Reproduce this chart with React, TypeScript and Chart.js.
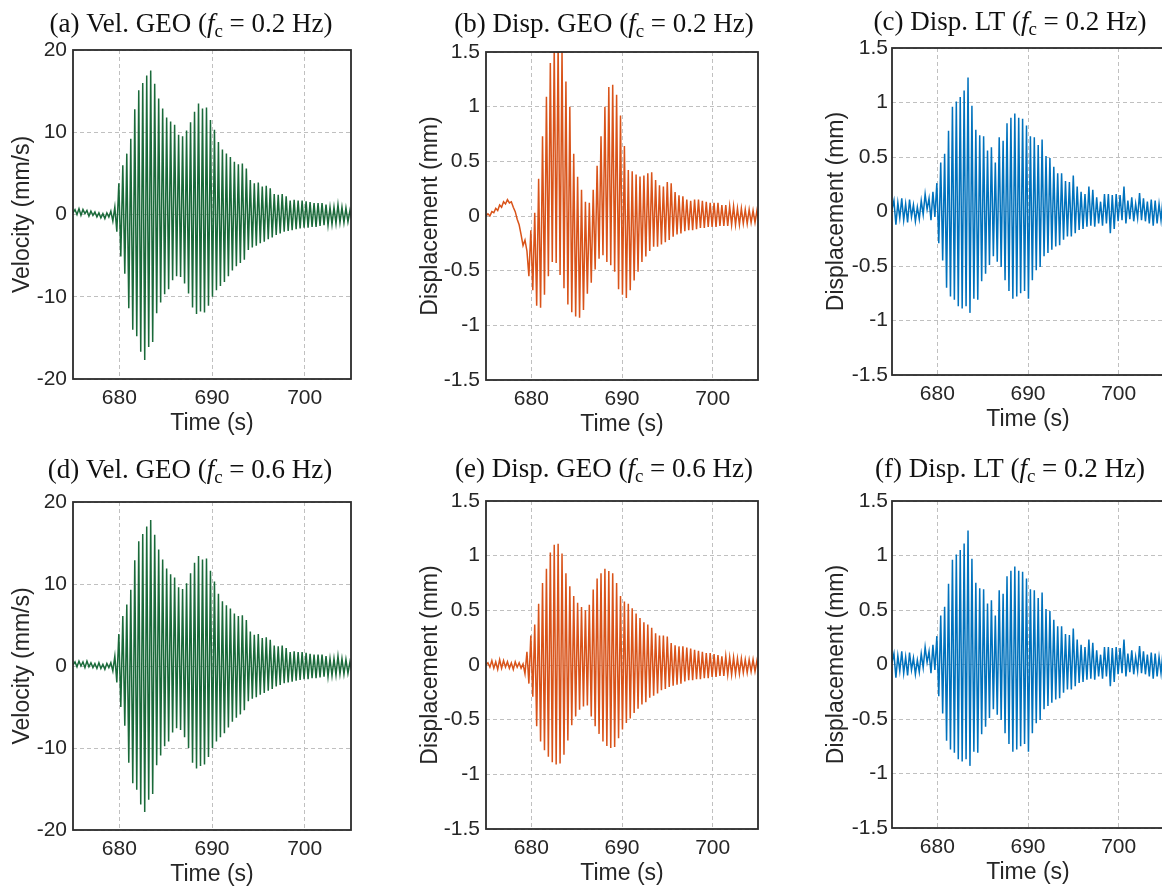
import React, { useEffect, useRef } from "react";
import { Chart, registerables } from "chart.js";

Chart.register(...registerables);

// ---- time base of the peak record ----
const T0 = 675; // s
const DT = 0.215; // s, spacing between successive extrema

// ---- tick labels ----
const timeTicks = [680, 690, 700];
const velTicks = [-20, -10, 0, 10, 20];
const dispTicks = [-1.5, -1, -0.5, 0, 0.5, 1, 1.5];

// ---- (a) velocity GEO, fc = 0.2 Hz ----
const velAPre = [0.2, 0.6, 0.0, 0.7, -0.1, 0.6, 0.1, 0.5, -0.2, 0.4, -0.1, 0.3, -0.3, 0.2, -0.4, 0.1, -0.5, 0.2, -0.3, 0.4, -0.8, 0.9];
const velATroughs = [-2.1, -5.1, -7.2, -11.4, -14.0, -14.8, -16.7, -17.7, -16.1, -15.5, -12.0, -10.7, -9.7, -9.1, -8.0, -7.5, -7.6, -8.4, -9.6, -11.3, -12.1, -11.8, -11.9, -11.1, -10.0, -9.2, -8.7, -8.2, -7.5, -6.8, -6.3, -5.9, -5.5, -4.3, -4.0, -3.8, -3.5, -3.3, -3.0, -2.8, -2.5, -2.3, -2.1, -2.0, -1.9, -1.8, -1.7, -1.6, -1.6, -1.5, -1.5, -1.4, -1.3, -1.3, -1.2, -1.1, -1.0, -1.0, -0.9, -0.8];
const velAPeaks = [3.8, 6.0, 7.4, 9.2, 12.8, 15.1, 16.0, 16.9, 17.5, 15.9, 14.1, 12.9, 11.8, 11.3, 10.9, 9.7, 9.5, 10.2, 11.2, 12.5, 13.5, 12.9, 13.0, 11.5, 10.3, 8.8, 7.9, 7.4, 7.0, 6.4, 6.1, 6.2, 5.6, 4.2, 3.8, 3.9, 3.4, 3.5, 3.2, 2.5, 2.4, 2.5, 2.2, 1.7, 1.8, 1.7, 1.7, 1.6, 1.5, 1.4, 1.4, 1.4, 1.2, 0.9, 0.9, 1.2, 0.9, 0.8, 0.5];

// ---- (d) velocity GEO, fc = 0.6 Hz ----
const velDPre = [0.1, 0.5, -0.1, 0.6, 0.0, 0.5, -0.2, 0.6, -0.1, 0.4, -0.2, 0.3, -0.3, 0.4, -0.3, 0.2, -0.4, 0.3, -0.2, 0.4, -0.6, 1.2];
const velDTroughs = [-2.0, -5.0, -7.3, -11.8, -14.3, -15.1, -16.9, -17.8, -16.3, -15.6, -12.1, -10.9, -9.8, -9.2, -8.1, -7.6, -7.8, -8.7, -10.0, -11.8, -12.5, -12.2, -12.0, -11.1, -10.0, -9.2, -8.7, -8.2, -7.5, -6.8, -6.3, -5.9, -5.4, -4.3, -4.0, -3.8, -3.5, -3.3, -3.0, -2.8, -2.5, -2.3, -2.1, -2.0, -1.9, -1.8, -1.7, -1.6, -1.6, -1.5, -1.5, -1.4, -1.3, -1.3, -1.2, -1.1, -1.0, -1.0, -0.9, -0.8];
const velDPeaks = [3.9, 6.1, 7.5, 9.3, 12.9, 15.2, 16.1, 17.0, 17.8, 16.0, 14.2, 13.0, 11.9, 11.2, 10.8, 9.6, 9.4, 10.1, 11.3, 12.6, 13.4, 13.0, 13.1, 11.6, 10.3, 8.8, 7.9, 7.4, 7.0, 6.4, 6.1, 6.2, 5.6, 4.2, 3.8, 3.9, 3.4, 3.5, 3.2, 2.5, 2.4, 2.5, 2.2, 1.7, 1.8, 1.7, 1.7, 1.6, 1.5, 1.4, 1.4, 1.4, 1.2, 0.9, 0.9, 1.2, 0.9, 0.8, 0.5];

// ---- (b) displacement GEO, fc = 0.2 Hz ----
const dispBPre = [0.0, 0.02, 0.0, 0.04, 0.03, 0.07, 0.05, 0.1, 0.08, 0.13, 0.11, 0.15, 0.12, 0.13, 0.08, 0.04, -0.03, -0.08, -0.17, -0.27, -0.22, -0.32];
const dispBTroughs = [-0.55, -0.68, -0.82, -0.84, -0.72, -0.55, -0.42, -0.43, -0.54, -0.66, -0.81, -0.88, -0.92, -0.93, -0.86, -0.71, -0.61, -0.49, -0.39, -0.36, -0.42, -0.45, -0.51, -0.67, -0.72, -0.75, -0.68, -0.59, -0.51, -0.42, -0.37, -0.32, -0.28, -0.28, -0.26, -0.24, -0.22, -0.19, -0.17, -0.16, -0.14, -0.13, -0.13, -0.12, -0.11, -0.11, -0.1, -0.1, -0.1, -0.09, -0.09, -0.09, -0.08, -0.08, -0.08, -0.07, -0.07, -0.06, -0.06, -0.05];
const dispBPeaks = [-0.13, 0.03, 0.34, 0.73, 1.09, 1.4, 1.55, 1.58, 1.52, 1.23, 1.0, 0.57, 0.36, 0.24, 0.13, 0.12, 0.24, 0.46, 0.73, 1.0, 1.18, 1.2, 1.11, 0.92, 0.64, 0.42, 0.41, 0.38, 0.36, 0.37, 0.39, 0.4, 0.33, 0.28, 0.27, 0.31, 0.3, 0.22, 0.19, 0.18, 0.15, 0.14, 0.15, 0.15, 0.14, 0.13, 0.12, 0.12, 0.12, 0.1, 0.1, 0.09, 0.09, 0.07, 0.07, 0.06, 0.06, 0.05, 0.05];

// ---- (e) displacement GEO, fc = 0.6 Hz ----
const dispEPre = [0.0, 0.02, -0.02, 0.04, -0.03, 0.03, -0.04, 0.05, -0.03, 0.04, -0.02, 0.03, -0.03, 0.02, -0.04, 0.03, -0.02, 0.02, -0.03, 0.01, -0.08];
const dispEPeaks = [0.12, 0.27, 0.37, 0.56, 0.75, 0.88, 1.03, 1.1, 1.11, 1.02, 0.84, 0.72, 0.63, 0.57, 0.53, 0.5, 0.55, 0.69, 0.79, 0.84, 0.88, 0.86, 0.84, 0.75, 0.63, 0.58, 0.56, 0.52, 0.47, 0.43, 0.39, 0.37, 0.34, 0.29, 0.27, 0.27, 0.26, 0.2, 0.18, 0.17, 0.17, 0.16, 0.15, 0.14, 0.13, 0.12, 0.11, 0.11, 0.1, 0.09, 0.08, 0.08, 0.07, 0.07, 0.06, 0.06, 0.05, 0.05, 0.05, 0.04];
const dispETroughs = [-0.17, -0.29, -0.56, -0.7, -0.78, -0.84, -0.89, -0.91, -0.9, -0.82, -0.69, -0.55, -0.47, -0.41, -0.38, -0.37, -0.47, -0.56, -0.63, -0.7, -0.74, -0.76, -0.75, -0.67, -0.59, -0.53, -0.49, -0.44, -0.4, -0.36, -0.34, -0.3, -0.28, -0.26, -0.23, -0.22, -0.2, -0.19, -0.18, -0.17, -0.15, -0.14, -0.14, -0.13, -0.13, -0.12, -0.12, -0.11, -0.11, -0.1, -0.1, -0.09, -0.09, -0.08, -0.08, -0.07, -0.07, -0.06, -0.06, -0.05];

// ---- (c)/(f) displacement LT, fc = 0.2 Hz ----
const dispLTPre = [0.02, 0.1, -0.12, 0.08, -0.06, 0.12, -0.08, 0.07, -0.1, 0.11, -0.05, 0.06, -0.09, 0.04, -0.07, 0.1, -0.03, 0.16, 0.02, 0.12, -0.08];
const dispLTPeaks = [0.18, 0.26, 0.45, 0.53, 0.74, 0.96, 1.01, 1.05, 1.11, 1.23, 0.97, 0.75, 0.7, 0.69, 0.56, 0.59, 0.45, 0.68, 0.65, 0.81, 0.86, 0.9, 0.86, 0.85, 0.79, 0.69, 0.68, 0.61, 0.66, 0.51, 0.49, 0.41, 0.35, 0.35, 0.28, 0.27, 0.33, 0.23, 0.18, 0.16, 0.23, 0.2, 0.13, 0.09, 0.16, 0.16, 0.15, 0.16, 0.15, 0.23, 0.1, 0.13, 0.07, 0.17, 0.12, 0.09, 0.11, 0.1, 0.07, 0.12];
const dispLTTroughs = [-0.05, -0.29, -0.45, -0.7, -0.78, -0.81, -0.87, -0.89, -0.87, -0.93, -0.8, -0.81, -0.64, -0.57, -0.49, -0.41, -0.46, -0.51, -0.63, -0.73, -0.8, -0.78, -0.75, -0.73, -0.8, -0.63, -0.54, -0.51, -0.41, -0.38, -0.35, -0.32, -0.31, -0.26, -0.23, -0.23, -0.2, -0.17, -0.16, -0.14, -0.13, -0.14, -0.11, -0.13, -0.11, -0.2, -0.16, -0.09, -0.08, -0.11, -0.07, -0.09, -0.06, -0.08, -0.09, -0.11, -0.13, -0.11, -0.08, -0.06];

// merge pre-event record with alternating extrema (in time order)
function buildSeries(pre: number[], first: number[], second: number[]) {
  const vals: number[] = [...pre];
  const n = Math.max(first.length, second.length);
  for (let k = 0; k < n; k++) {
    if (k < first.length) vals.push(first[k]);
    if (k < second.length) vals.push(second[k]);
  }
  return vals.map((v, i) => ({ x: T0 + i * DT, y: v }));
}

const GREEN = "#1a6a3a";
const ORANGE = "#d95319";
const BLUE = "#0072bd";
const TEXT = "#262626";

const X_H = 58;
const TOP_PAD = 50;

const panels = [
  { key: "a", l: 73, t: 50, r: 351, b: 379, ylabX: 23, titleCx: 191, titleBase: 32, title: ["(a) Vel. GEO (", " = 0.2 Hz)"], ylabel: "Velocity (mm/s)", ticks: velTicks, min: -20, max: 20, color: GREEN, data: () => buildSeries(velAPre, velATroughs, velAPeaks), tickPad: 6 },
  { key: "b", l: 486, t: 52, r: 758, b: 380, ylabX: 431, titleCx: 604, titleBase: 32, title: ["(b) Disp. GEO (", " = 0.2 Hz)"], ylabel: "Displacement (mm)", ticks: dispTicks, min: -1.5, max: 1.5, color: ORANGE, data: () => buildSeries(dispBPre, dispBTroughs, dispBPeaks), tickPad: 6 },
  { key: "c", l: 892, t: 48, r: 1164, b: 375, ylabX: 837, titleCx: 1010, titleBase: 30, title: ["(c) Disp. LT (", " = 0.2 Hz)"], ylabel: "Displacement (mm)", ticks: dispTicks, min: -1.5, max: 1.5, color: BLUE, data: () => buildSeries(dispLTPre, dispLTPeaks, dispLTTroughs), tickPad: 4 },
  { key: "d", l: 73, t: 502, r: 351, b: 830, ylabX: 23, titleCx: 190, titleBase: 478, title: ["(d) Vel. GEO (", " = 0.6 Hz)"], ylabel: "Velocity (mm/s)", ticks: velTicks, min: -20, max: 20, color: GREEN, data: () => buildSeries(velDPre, velDTroughs, velDPeaks), tickPad: 6 },
  { key: "e", l: 486, t: 501, r: 758, b: 829, ylabX: 431, titleCx: 604, titleBase: 477, title: ["(e) Disp. GEO (", " = 0.6 Hz)"], ylabel: "Displacement (mm)", ticks: dispTicks, min: -1.5, max: 1.5, color: ORANGE, data: () => buildSeries(dispEPre, dispEPeaks, dispETroughs), tickPad: 6 },
  { key: "f", l: 892, t: 501, r: 1164, b: 828, ylabX: 837, titleCx: 1010, titleBase: 477, title: ["(f) Disp. LT (", " = 0.2 Hz)"], ylabel: "Displacement (mm)", ticks: dispTicks, min: -1.5, max: 1.5, color: BLUE, data: () => buildSeries(dispLTPre, dispLTPeaks, dispLTTroughs), tickPad: 4 },
];

function Panel({ p }: { p: any }) {
  const ref = useRef<HTMLCanvasElement | null>(null);
  const canvasLeft = Math.round(p.ylabX - 13.8);
  const canvasTop = p.t - TOP_PAD;
  const yw = p.l - canvasLeft;
  const width = p.r - canvasLeft + 4;
  const height = p.b + X_H - canvasTop;

  useEffect(() => {
    if (!ref.current) return;
    const titlePlugin = {
      id: "panelTitle",
      afterDraw(chart: any) {
        const ctx = chart.ctx;
        const size = 27;
        const parts = [
          { text: p.title[0], font: `${size}px "Liberation Serif"`, dy: 0 },
          { text: "f", font: `italic ${size}px "Liberation Serif"`, dy: 0 },
          { text: "c", font: `${Math.round(size * 0.7)}px "Liberation Serif"`, dy: 5 },
          { text: p.title[1], font: `${size}px "Liberation Serif"`, dy: 0 },
        ];
        ctx.save();
        let total = 0;
        const widths = parts.map((pt) => {
          ctx.font = pt.font;
          const w = ctx.measureText(pt.text).width;
          total += w;
          return w;
        });
        let x = p.titleCx - canvasLeft - total / 2;
        const y = p.titleBase - canvasTop;
        ctx.fillStyle = "#111";
        ctx.textBaseline = "alphabetic";
        ctx.textAlign = "left";
        parts.forEach((pt, i) => {
          ctx.font = pt.font;
          ctx.fillText(pt.text, x, y + pt.dy);
          x += widths[i];
        });
        ctx.restore();
      },
    };
    const framePlugin = {
      id: "frameBox",
      afterDatasetsDraw(chart: any) {
        const { ctx, chartArea: a } = chart;
        ctx.save();
        ctx.strokeStyle = "#2b2b2b";
        ctx.lineWidth = 1.8;
        ctx.strokeRect(a.left, a.top, a.right - a.left, a.bottom - a.top);
        ctx.restore();
      },
    };
    const chart = new Chart(ref.current, {
      type: "line",
      data: {
        datasets: [
          {
            data: p.data(),
            borderColor: p.color,
            borderWidth: 1.5,
            pointRadius: 0,
            tension: 0,
            fill: false,
          },
        ],
      },
      options: {
        animation: false,
        responsive: false,
        maintainAspectRatio: false,
        events: [],
        layout: { padding: { top: TOP_PAD, right: 4, left: 0, bottom: 0 } },
        plugins: { legend: { display: false }, tooltip: { enabled: false }, title: { display: false } },
        scales: {
          x: {
            type: "linear",
            min: 675,
            max: 705,
            afterBuildTicks: (s: any) => {
              s.ticks = timeTicks.map((v) => ({ value: v }));
            },
            afterFit: (s: any) => {
              s.height = X_H;
            },
            ticks: {
              autoSkip: false,
              maxRotation: 0,
              padding: 7,
              color: TEXT,
              font: { family: "Liberation Sans", size: 21 },
              callback: (v: any) => String(v),
            },
            grid: { color: "#c0c0c0", lineWidth: 1, drawTicks: false },
            border: { display: false, dash: [4, 3] },
            title: {
              display: true,
              text: "Time (s)",
              color: TEXT,
              padding: 0,
              font: { family: "Liberation Sans", size: 23 },
            },
          },
          y: {
            type: "linear",
            min: p.min,
            max: p.max,
            afterBuildTicks: (s: any) => {
              s.ticks = p.ticks.map((v: number) => ({ value: v }));
            },
            afterFit: (s: any) => {
              s.width = yw;
            },
            ticks: {
              autoSkip: false,
              padding: p.tickPad,
              color: TEXT,
              font: { family: "Liberation Sans", size: 21 },
              callback: (v: any) => String(v),
            },
            grid: { color: "#c0c0c0", lineWidth: 1, drawTicks: false },
            border: { display: false, dash: [4, 3] },
            title: {
              display: true,
              text: p.ylabel,
              color: TEXT,
              padding: 0,
              font: { family: "Liberation Sans", size: 23 },
            },
          },
        },
      },
      plugins: [titlePlugin, framePlugin],
    } as any);
    return () => chart.destroy();
  }, []);

  return (
    <canvas
      ref={ref}
      width={width}
      height={height}
      style={{ position: "absolute", left: canvasLeft, top: canvasTop, width, height }}
    />
  );
}

export default function App() {
  return (
    <div
      style={{
        position: "fixed",
        left: 0,
        top: 0,
        width: 1162,
        height: 888,
        overflow: "hidden",
        background: "#ffffff",
      }}
    >
      {panels.map((p) => (
        <Panel key={p.key} p={p} />
      ))}
    </div>
  );
}
